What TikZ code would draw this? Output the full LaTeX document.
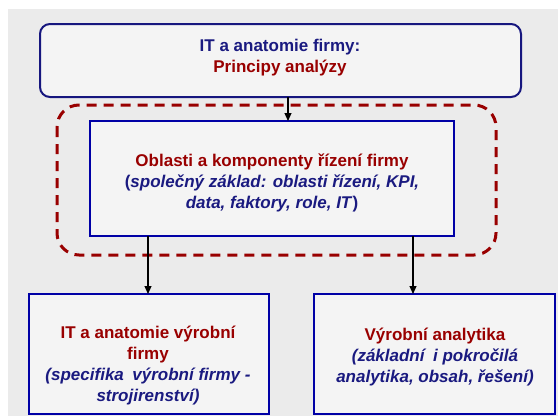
\documentclass[tikz,border=0pt]{standalone}
\usepackage{fontspec}
\setmainfont{Liberation Sans}
\usetikzlibrary{arrows.meta}
\definecolor{pagegray}{HTML}{EBEBEB}
\definecolor{boxfill}{HTML}{F4F4F4}
\definecolor{navyline}{HTML}{16167E}
\definecolor{blueline}{HTML}{0000A6}
\definecolor{navytext}{HTML}{1A1A80}
\definecolor{darkred}{HTML}{990000}
\tikzset{
  every picture/.style={x=1pt,y=-1pt},
  box/.style={draw=blueline, fill=boxfill, line width=2pt},
  topbox/.style={draw=navyline, fill=boxfill, line width=2pt, rounded corners=10pt},
  groupframe/.style={draw=darkred, line width=3pt, rounded corners=22pt, dash pattern=on 10pt off 7pt},
  label/.style={align=center, inner sep=0pt, font=\bfseries\fontsize{17}{21}\selectfont},
  link/.style={line width=1.2pt, -{Triangle[width=7pt,length=8pt]}},
}
\begin{document}
\begin{tikzpicture}
  % page and grey slide area
  \fill[white] (0,0) rectangle (558,416);
  \fill[pagegray] (7.5,9) rectangle (558,416);
  \useasboundingbox (0,0) rectangle (558,416);

  % boxes
  \path[topbox] (40,24) rectangle (521,97);
  \coordinate (topS) at (288,97);
  \path[groupframe] (57,105) rectangle (496,255);
  \path[box] (90,121) rectangle (454,236);
  \coordinate (midN) at (288,121);
  \coordinate (midSW) at (148,236);
  \coordinate (midSE) at (413,236);
  \path[box] (29,294) rectangle (269,414);
  \coordinate (leftN) at (148,294);
  \path[box] (314,294) rectangle (555,414);
  \coordinate (rightN) at (413,294);

  % texts
  \node[label] (title) at (280,58)
    {\textcolor{navytext}{IT a anatomie firmy:}\\
     \textcolor{darkred}{Principy analýzy}};
  \node[label] (areas) at (272,182.5)
    {\textcolor{darkred}{Oblasti a komponenty řízení firmy}\\
     \textcolor{navytext}{(\textit{společný základ: oblasti řízení, KPI,}}\\
     \textcolor{navytext}{\textit{data, faktory, role, IT})}};
  \node[label] (manuf) at (148,366)
    {\textcolor{darkred}{IT a anatomie výrobní}\\
     \textcolor{darkred}{firmy}\\
     \textcolor{navytext}{\textit{(specifika\hspace{0.5em}výrobní firmy -}}\\
     \textcolor{navytext}{\textit{strojirenství)}}};
  \node[label] (analytics) at (435,357.5)
    {\textcolor{darkred}{Výrobní analytika}\\
     \textcolor{navytext}{\textit{(základní\hspace{0.5em}i pokročilá}}\\
     \textcolor{navytext}{\textit{analytika, obsah, řešení)}}};

  % connectors
  \draw[link] (topS) -- (midN);
  \draw[link] (midSW) -- (leftN);
  \draw[link] (midSE) -- (rightN);
\end{tikzpicture}
\end{document}
